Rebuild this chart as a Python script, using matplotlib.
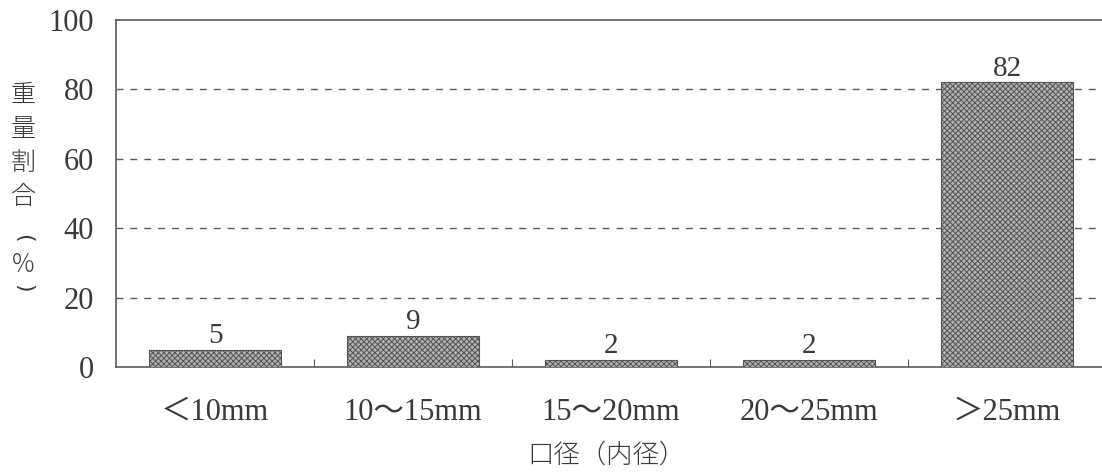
import matplotlib
matplotlib.use("Agg")
import matplotlib.pyplot as plt
from matplotlib.ticker import FixedLocator

# Weight share by bore size (inner diameter)
categories = ["＜10mm", "10～15mm", "15～20mm", "20～25mm", "＞25mm"]
weight_share = [5, 9, 2, 2, 82]
y_ticks = [0, 20, 40, 60, 80, 100]
y_label_chars = ["重", "量", "割", "合", "(", "%", ")"]
x_label = "口径（内径）"

serif = ["Liberation Serif", "Noto Sans CJK JP"]
cjk = ["Noto Sans CJK JP", "DejaVu Sans"]
text_color = "#3a3a3a"
line_color = "#5a5a5a"

plt.rcParams["hatch.color"] = "#4a4a4a"
plt.rcParams["hatch.linewidth"] = 0.7

fig = plt.figure(figsize=(11.02, 4.74), dpi=100)
ax = fig.add_axes([116 / 1102, 1 - 367 / 474, 990 / 1102, (367 - 20) / 474])

x = list(range(len(categories)))
bars = ax.bar(x, weight_share, width=0.67, facecolor="#b0b0b0",
              edgecolor="#555555", linewidth=0.8, hatch="xxxxxx", zorder=3)

for xi, v in zip(x, weight_share):
    ax.annotate(str(v), (xi, v), xytext=(0, 5), textcoords="offset points",
                ha="center", va="baseline", fontsize=21, family=serif,
                color=text_color)

ax.set_xlim(-0.5, len(categories) - 0.5)
ax.set_ylim(0, 100)
ax.yaxis.set_major_locator(FixedLocator(y_ticks))
ax.set_yticklabels([str(t) for t in y_ticks], family=serif, fontsize=22,
                   color=text_color)
ax.tick_params(axis="y", length=0, pad=16)

ax.set_xticks(x)
ax.set_xticklabels(categories, family=serif, fontsize=22, color=text_color)
ax.tick_params(axis="x", which="major", length=0, pad=22)
ax.set_xticks([i + 0.5 for i in x[:-1]], minor=True)
ax.tick_params(axis="x", which="minor", direction="in", length=6,
               width=0.8, color=line_color)

for t in y_ticks[1:-1]:
    ax.axhline(t, color=line_color, linewidth=1.0, linestyle=(0, (5, 5)),
               zorder=1)

for side in ["left", "bottom", "top"]:
    ax.spines[side].set_color(line_color)
    ax.spines[side].set_linewidth(1.2)
ax.spines["right"].set_visible(False)

# Vertically stacked y-axis title; brackets turned for vertical writing
y_positions = [95, 129, 163, 197, 238, 265, 288]
for ch, yp in zip(y_label_chars, y_positions):
    if ch in "()":
        fig.text(23 / 1102, 1 - yp / 474, ch, ha="center", va="center",
                 rotation=-90, fontsize=16, family="DejaVu Sans",
                 color=text_color)
    else:
        fig.text(23 / 1102, 1 - yp / 474, ch, ha="center", va="center",
                 fontsize=18, family=cjk, weight="light", color=text_color)

fig.text(606 / 1102, 1 - 455 / 474, x_label, ha="center", va="center",
         fontsize=19, family=cjk, weight="light", color=text_color)

fig.savefig("out.png", dpi=100, facecolor="white")
